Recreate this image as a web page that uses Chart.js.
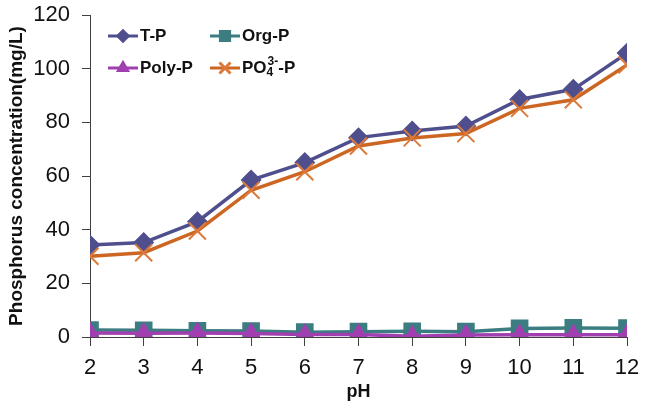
<!DOCTYPE html>
<html>
<head>
<meta charset="utf-8">
<script src="https://cdn.jsdelivr.net/npm/chart.js@4.4.1/dist/chart.umd.min.js"></script>
<style>
  html, body { margin: 0; padding: 0; background: #fff; }
  #wrap { width: 662px; height: 410px; }
</style>
</head>
<body>
<div id="wrap"><canvas id="chart" width="662" height="410"></canvas></div>
<script>
// data
const pH = [2, 3, 4, 5, 6, 7, 8, 9, 10, 11, 12];
const totalP = [34.3, 35.2, 43, 58.5, 65, 74.3, 76.8, 78.6, 88.5, 92.3, 105.8];
const orgP   = [2.6, 2.5, 2.3, 2.2, 1.8, 2, 2.1, 2, 3.2, 3.4, 3.3];
const polyP  = [1.5, 1.4, 1.5, 1.3, 0.9, 0.9, 0.3, 0.7, 0.8, 0.8, 0.8];
const po4P   = [30.1, 31.4, 39.5, 54.7, 61.6, 71.2, 74.2, 75.8, 85.2, 88.4, 101.4];
const yTicks = [0, 20, 40, 60, 80, 100, 120];

const FONT = '"Liberation Sans", Arial, sans-serif';
const AXIS = '#404040';

const toXY = (vals) => vals.map((v, i) => ({ x: pH[i], y: v }));

const series = [
  { label: 'T-P', data: toXY(totalP), borderColor: '#4F4F8E', backgroundColor: '#4F4F8E',
    borderWidth: 3.5, pointStyle: 'rectRot', pointRadius: 8, order: 3 },
  { label: 'Org-P', data: toXY(orgP), borderColor: '#3B7D80', backgroundColor: '#3B7D80',
    borderWidth: 3.5, pointStyle: 'rect', pointRadius: 10, order: 2 },
  { label: 'Poly-P', data: toXY(polyP), borderColor: '#A13FB0', backgroundColor: '#A13FB0',
    borderWidth: 3.5, pointStyle: 'triangle', pointRadius: 8, order: 1 },
  { label: 'PO4', data: toXY(po4P), borderColor: '#CC6622', backgroundColor: '#CC6622',
    pointBorderColor: '#DB7A3A', borderWidth: 3.5, pointBorderWidth: 2,
    pointStyle: 'crossRot', pointRadius: 12, order: 0 }
];

// legend drawn inside the plot, two rows like the original
const legendPlugin = {
  id: 'boxLegend',
  afterDraw(chart) {
    const ctx = chart.ctx;
    const spots = [[108, 36], [210, 36], [108, 68], [210, 68]];
    series.forEach((s, i) => {
      const [x0, y] = spots[i];
      ctx.save();
      ctx.strokeStyle = s.borderColor;
      ctx.lineWidth = 3;
      ctx.beginPath();
      ctx.moveTo(x0, y);
      ctx.lineTo(x0 + 30, y);
      ctx.stroke();
      ctx.fillStyle = s.backgroundColor;
      ctx.strokeStyle = s.pointBorderColor || s.borderColor;
      Chart.helpers.drawPoint(ctx, {
        pointStyle: s.pointStyle, radius: s.pointRadius * 0.65, rotation: 0,
        borderWidth: s.pointBorderWidth || 1
      }, x0 + 15, y);
      ctx.fillStyle = '#111';
      ctx.textBaseline = 'middle';
      ctx.font = 'bold 17px ' + FONT;
      let tx = x0 + 32;
      if (s.label === 'PO4') {
        ctx.fillText('PO', tx, y);
        tx += ctx.measureText('PO').width;
        ctx.font = 'bold 12px ' + FONT;
        ctx.fillText('4', tx, y + 5);
        ctx.fillText('3-', tx + 1, y - 6);
        tx += ctx.measureText('3-').width + 1;
        ctx.font = 'bold 17px ' + FONT;
        ctx.fillText('-P', tx, y);
      } else {
        ctx.fillText(s.label, tx, y);
      }
      ctx.restore();
    });
  }
};

new Chart(document.getElementById('chart'), {
  type: 'line',
  data: { datasets: series },
  options: {
    responsive: false,
    animation: false,
    layout: { autoPadding: false, padding: { top: 15, right: 35, left: 0, bottom: 0 } },
    plugins: { legend: { display: false }, tooltip: { enabled: false } },
    elements: { line: { tension: 0 } },
    scales: {
      x: {
        type: 'linear', min: 2, max: 12,
        afterFit: (s) => { s.height = 73; },
        afterBuildTicks: (s) => { s.ticks = pH.map(v => ({ value: v })); },
        border: { display: true, color: AXIS, width: 1 },
        grid: { display: true, drawOnChartArea: false, drawTicks: true, tickLength: 9, color: AXIS },
        ticks: { color: '#111', padding: 9, font: { family: FONT, size: 22 } },
        title: { display: true, text: 'pH', color: '#111', padding: { top: 0, bottom: 7 },
          font: { family: FONT, size: 18, weight: 'bold' } }
      },
      y: {
        min: 0, max: 120,
        // the tick label padding would otherwise push the plot top down ~10px
        afterFit: (s) => { s.width = 90; s.paddingTop = 0; s.paddingBottom = 0; },
        afterBuildTicks: (s) => { s.ticks = yTicks.map(v => ({ value: v })); },
        border: { display: true, color: AXIS, width: 1 },
        grid: { display: true, drawOnChartArea: false, drawTicks: true, tickLength: 8, color: AXIS },
        ticks: { color: '#111', padding: 12, font: { family: FONT, size: 22 } },
        title: { display: true, text: 'Phosphorus concentration(mg/L)', color: '#111',
          padding: { top: 5, bottom: 0 }, font: { family: FONT, size: 19, weight: 'bold' } }
      }
    }
  },
  plugins: [legendPlugin]
});
</script>
</body>
</html>
